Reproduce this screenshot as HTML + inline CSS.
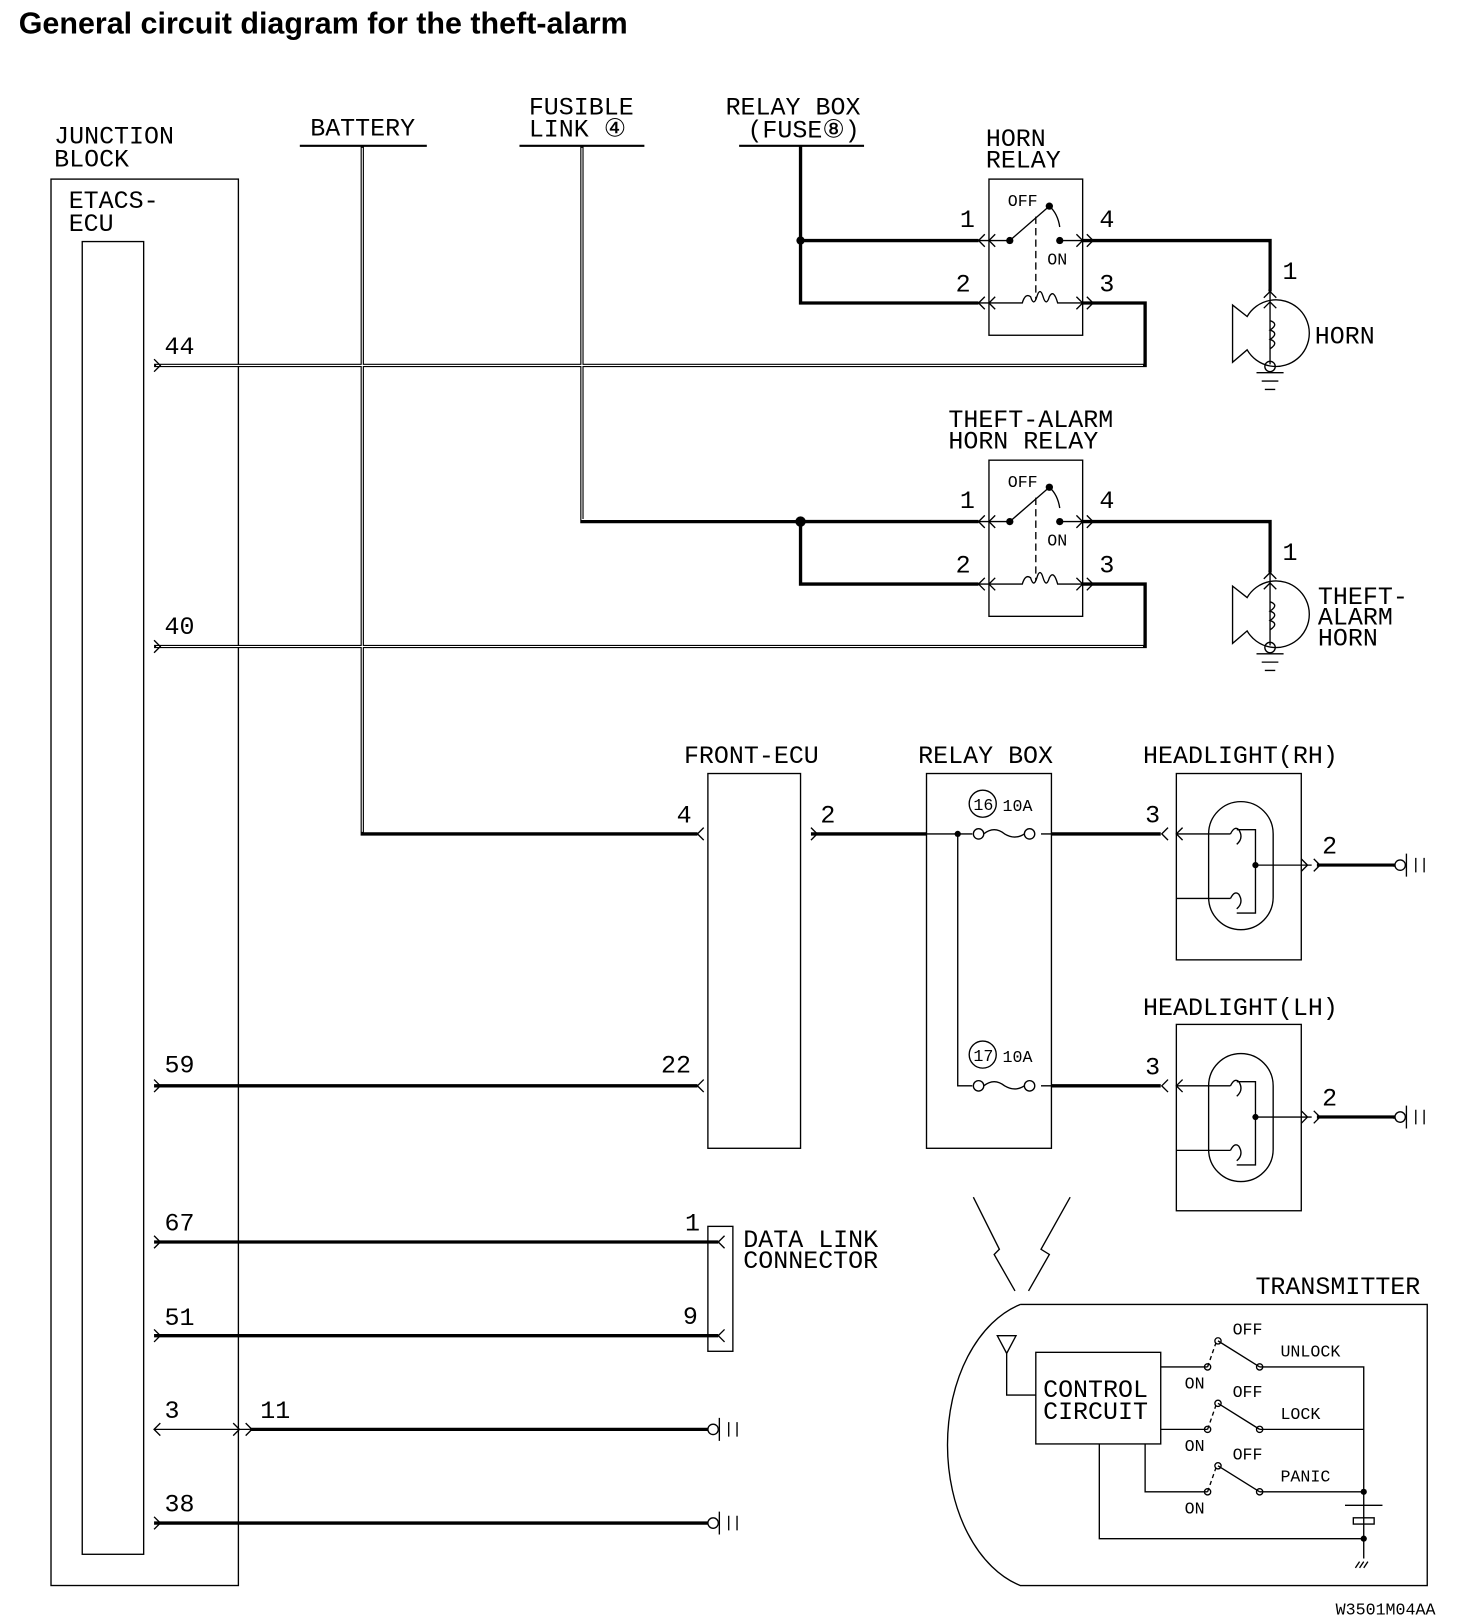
<!DOCTYPE html>
<html><head><meta charset="utf-8"><style>
html,body{margin:0;padding:0;background:#fff;}
svg{display:block}
.t{font-family:"Liberation Mono",monospace;font-size:24px;fill:#000}
.s{font-family:"Liberation Mono",monospace;font-size:16px;fill:#000}
</style></head><body>
<svg width="1472" height="1622" viewBox="0 0 1414 1558" xmlns="http://www.w3.org/2000/svg">
<rect width="1414" height="1558" fill="#fff"/>
<text x="18" y="32" font-family="Liberation Sans,sans-serif" font-weight="bold" font-size="29" fill="#000" textLength="585" lengthAdjust="spacingAndGlyphs">General circuit diagram for the theft-alarm</text>
<g fill="none" stroke="#000" stroke-width="1.3">
<rect x="49" y="172" width="180" height="1351"/>
<rect x="79" y="232" width="59" height="1261"/>
<line x1="288" y1="140" x2="410" y2="140" stroke-width="2"/>
<line x1="499" y1="140" x2="619" y2="140" stroke-width="2"/>
<line x1="710" y1="140" x2="830" y2="140" stroke-width="2"/>
<rect x="950" y="172" width="90" height="150"/>
<rect x="950" y="442" width="90" height="150"/>
<rect x="680" y="743" width="89" height="360"/>
<rect x="890" y="743" width="120" height="360"/>
<rect x="1130" y="743" width="120" height="179"/>
<rect x="1130" y="984" width="120" height="179"/>
<rect x="680" y="1178" width="24" height="120"/>
<path d="M980 1253 L1371 1253 L1371 1523 L980 1523 A95 140 0 0 1 980 1253"/>
<rect x="995" y="1299" width="120" height="88"/>
</g>
<g fill="none" stroke="#000" stroke-width="3.2">
<path d="M348 140 V801 H670"/>
<path d="M559 140 V501 H940"/>
<path d="M769 140 V291 H940"/>
<path d="M769 231 H940"/>
<path d="M1040 291 H1100 V351 H148"/>
<path d="M1040 231 H1220 V280"/>
<path d="M769 501 V561 H940"/>
<path d="M1040 561 H1100 V621 H148"/>
<path d="M1040 501 H1220 V550"/>
<path d="M779 801 H890"/>
<path d="M1010 801 H1115"/>
<path d="M1010 1043 H1115"/>
<path d="M1265 831 H1340"/>
<path d="M1265 1073 H1340"/>
<path d="M148 1043 H670"/>
<path d="M148 1193 H690"/>
<path d="M148 1283 H690"/>
<path d="M240 1373 H680"/>
<path d="M148 1463 H680"/>
</g>
<g fill="none" stroke="#fff" stroke-width="1">
<path d="M348 142 V799"/><path d="M559 142 V499 H765"/><path d="M150 351 H1098"/><path d="M150 621 H1098"/><path d="M1218 233 V278"/><path d="M1218 503 V548"/><path d="M1267 833 H1338"/><path d="M1267 1075 H1338"/>
</g>
<g fill="#000"><circle cx="769" cy="231" r="4"/><circle cx="769" cy="501" r="5"/></g>
<g fill="none" stroke="#000" stroke-width="1.3">
<path d="M148 345 l6 6 -6 6 M148 615 l6 6 -6 6 M148 1037 l6 6 -6 6 M148 1187 l6 6 -6 6 M148 1277 l6 6 -6 6 M148 1457 l6 6 -6 6 M154 1367 l-6 6 6 6 M224 1367 l6 6 -6 6 M236 1367 l6 6 -6 6"/>
<path d="M148 1373 H240"/>
<path d="M676 795 l-6 6 6 6 M676 1037 l-6 6 6 6 M696 1187 l-6 6 6 6 M696 1277 l-6 6 6 6 M779 795 l6 6 -6 6"/>
<g id="rl">
<path d="M940 231 H970 L1008 198 M1018 231 H1050"/>
<path d="M1008 198 Q1016 205 1018 218"/>
<path d="M995 208 V288" stroke-dasharray="7 4"/>
<path d="M940 291 H982 q3 -10 8 -6 q3 10 6 0 q3 -10 6 0 q3 10 6 0 q4 -8 8 6 H1050"/>
<path d="M946 225 l-6 6 6 6 M956 225 l-6 6 6 6 M946 285 l-6 6 6 6 M956 285 l-6 6 6 6 M1034 225 l6 6 -6 6 M1044 225 l6 6 -6 6 M1034 285 l6 6 -6 6 M1044 285 l6 6 -6 6"/>
</g>
<use href="#rl" y="270"/>
<g id="hn">
<path d="M1220 280 V350"/>
<path d="M1214 286 l6 -6 6 6 M1214 296 l6 -6 6 6"/>
<path d="M1184 293 L1184 348 L1198 336 A32 32 0 1 0 1198 304 Z"/>
<path d="M1220 308 q9 3 0 9 q9 3 0 9 q9 3 0 9"/>
<circle cx="1220" cy="352" r="5"/>
<path d="M1207 358 H1233 M1212 366 H1228 M1215 374 H1225"/>
</g>
<use href="#hn" y="270"/>
<circle cx="944" cy="772" r="13"/><circle cx="944" cy="1013" r="13"/>
<path d="M890 801 H934 M1000 801 H1010 M920 801 V1043 H934 M1000 1043 H1010"/>
<circle cx="940" cy="801" r="5"/><circle cx="989" cy="801" r="5"/>
<circle cx="940" cy="1043" r="5"/><circle cx="989" cy="1043" r="5"/>
<path d="M945 801 q10 -8 20 0 q10 6 19 0 M945 1043 q10 -8 20 0 q10 6 19 0"/>
<g id="hl">
<path d="M1122 795 l-6 6 6 6 M1136 795 l-6 6 6 6 M1130 801 H1182 M1130 863 H1182 M1208 831 H1260 M1250 825 l6 6 -6 6 M1262 825 l6 6 -6 6"/>
<rect x="1161" y="770" width="62" height="123" rx="31"/>
<path d="M1182 801 q4 -8 8 -4 q5 8 -2 14 M1182 863 q4 -8 8 -4 q5 8 -2 14 M1188 797 H1206 V877 H1188"/>
<circle cx="1345" cy="831" r="5"/><path d="M1351 820 V842 M1360 824 V838 M1368 824 V838"/>
</g>
<use href="#hl" y="242"/>
<circle cx="685" cy="1373" r="5"/><path d="M691 1362 V1384 M700 1366 V1380 M708 1366 V1380"/>
<circle cx="685" cy="1463" r="5"/><path d="M691 1452 V1474 M700 1456 V1470 M708 1456 V1470"/>
<path d="M935 1150 L960 1200 L955 1205 L975 1240 M1028 1150 L1000 1200 L1008 1205 L988 1240"/>
<path d="M958 1283 H976 L967 1300 Z M967 1300 V1340 H995"/>
<path d="M1115 1313 H1160 M1115 1373 H1160 M1100 1387 V1433 H1160 M1056 1387 V1478 H1310"/>
<path d="M1210 1313 H1310 V1497 M1210 1373 H1310 M1210 1433 H1310"/>
<path d="M1170 1288 L1210 1313 M1170 1348 L1210 1373 M1170 1408 L1210 1433"/>
<path d="M1160 1313 L1168 1290 M1160 1373 L1168 1350 M1160 1433 L1168 1410" stroke-dasharray="4 3"/>
<circle cx="1160" cy="1313" r="3"/><circle cx="1170" cy="1288" r="3"/><circle cx="1210" cy="1313" r="3"/>
<circle cx="1160" cy="1373" r="3"/><circle cx="1170" cy="1348" r="3"/><circle cx="1210" cy="1373" r="3"/>
<circle cx="1160" cy="1433" r="3"/><circle cx="1170" cy="1408" r="3"/><circle cx="1210" cy="1433" r="3"/>
<path d="M1292 1446 H1328 M1300 1458 H1320 V1464 H1300 Z M1306 1500 l-4 6 M1310 1500 l-4 6 M1314 1500 l-4 6"/>
</g>
<g fill="#000"><circle cx="1310" cy="1433" r="3"/><circle cx="1310" cy="1478" r="3"/><circle cx="920" cy="801" r="3"/><circle cx="1206" cy="831" r="3"/><circle cx="1206" cy="1073" r="3"/>
<circle cx="970" cy="231" r="3.5"/><circle cx="1008" cy="198" r="3.5"/><circle cx="1018" cy="231" r="3.5"/>
<circle cx="970" cy="501" r="3.5"/><circle cx="1008" cy="468" r="3.5"/><circle cx="1018" cy="501" r="3.5"/></g>
<g class="t">
<text x="52" y="138">JUNCTION</text><text x="52" y="160">BLOCK</text>
<text x="66" y="200">ETACS-</text><text x="66" y="222">ECU</text>
<text x="298" y="130">BATTERY</text>
<text x="508" y="110">FUSIBLE</text><text x="508" y="131">LINK ④</text>
<text x="697" y="110">RELAY BOX</text><text x="718" y="132">(FUSE⑧)</text>
<text x="947" y="140">HORN</text><text x="947" y="161">RELAY</text>
<text x="911" y="410">THEFT-ALARM</text><text x="911" y="431">HORN RELAY</text>
<text x="922" y="218">1</text><text x="918" y="280">2</text><text x="1056" y="218">4</text><text x="1056" y="280">3</text>
<text x="922" y="488">1</text><text x="918" y="550">2</text><text x="1056" y="488">4</text><text x="1056" y="550">3</text>
<text x="1232" y="268">1</text><text x="1232" y="538">1</text>
<text x="1263" y="330">HORN</text>
<text x="1266" y="580">THEFT-</text><text x="1266" y="600">ALARM</text><text x="1266" y="620">HORN</text>
<text x="158" y="340">44</text><text x="158" y="609">40</text><text x="158" y="1030">59</text><text x="158" y="1182">67</text><text x="158" y="1273">51</text><text x="158" y="1362">3</text><text x="250" y="1362">11</text><text x="158" y="1452">38</text>
<text x="657" y="733">FRONT-ECU</text><text x="882" y="733">RELAY BOX</text>
<text x="1098" y="733">HEADLIGHT(RH)</text><text x="1098" y="975">HEADLIGHT(LH)</text>
<text x="650" y="790">4</text><text x="788" y="790">2</text><text x="635" y="1030">22</text>
<text x="1100" y="790">3</text><text x="1100" y="1032">3</text><text x="1270" y="820">2</text><text x="1270" y="1062">2</text>
<text x="658" y="1182">1</text><text x="656" y="1272">9</text>
<text x="714" y="1198">DATA LINK</text><text x="714" y="1218">CONNECTOR</text>
<text x="1206" y="1243">TRANSMITTER</text>
<text x="1002" y="1342">CONTROL</text><text x="1002" y="1363">CIRCUIT</text>
</g>
<g class="s">
<text x="935" y="778">16</text><text x="935" y="1019">17</text><text x="963" y="779">10A</text><text x="963" y="1020">10A</text>
<text x="968" y="198">OFF</text><text x="1006" y="254">ON</text>
<text x="968" y="468">OFF</text><text x="1006" y="524">ON</text>
<text x="1184" y="1282">OFF</text><text x="1230" y="1303">UNLOCK</text><text x="1138" y="1334">ON</text>
<text x="1184" y="1342">OFF</text><text x="1230" y="1363">LOCK</text><text x="1138" y="1394">ON</text>
<text x="1184" y="1402">OFF</text><text x="1230" y="1423">PANIC</text><text x="1138" y="1454">ON</text>
<text x="1283" y="1551">W3501M04AA</text>
</g>
</svg>
</body></html>
